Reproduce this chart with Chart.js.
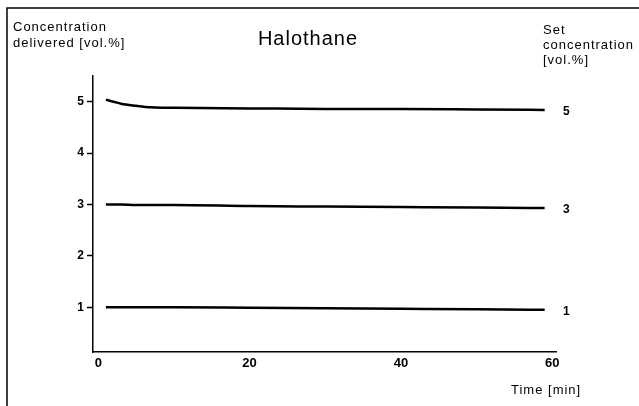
<!DOCTYPE html>
<html>
<head>
<meta charset="utf-8">
<script src="https://cdn.jsdelivr.net/npm/chart.js@4/dist/chart.umd.min.js"></script>
<style>
  html, body { margin: 0; padding: 0; background: #fff; }
  #wrap { width: 639px; height: 406px; position: relative; }
</style>
</head>
<body>
<div id="wrap"><canvas id="chart" width="639" height="406"></canvas></div>
<script>
// Halothane vaporizer output over time
const timeMin = [1, 2, 3, 5, 7, 10, 20, 30, 40, 50, 59];
const set5 = [5.04, 5.0, 4.96, 4.92, 4.89, 4.88, 4.87, 4.86, 4.86, 4.85, 4.84];
const set3 = [3.0, 3.0, 3.0, 2.99, 2.99, 2.99, 2.97, 2.96, 2.95, 2.94, 2.93];
const set1 = [1.0, 1.0, 1.0, 1.0, 1.0, 1.0, 0.99, 0.98, 0.97, 0.96, 0.95];
const setLabels = ['5', '3', '1'];
const xTicks = [0, 20, 40, 60];
const yTicks = [1, 2, 3, 4, 5];

const FONT = '"Liberation Sans", Arial, sans-serif';

function toPoints(ys) {
    return timeMin.map((t, i) => ({ x: t, y: ys[i] }));
}

function makeSet(ys) {
    return {
        data: toPoints(ys),
        borderColor: '#000',
        borderWidth: 2.5,
        pointRadius: 0,
        cubicInterpolationMode: 'monotone',
        fill: false,
    };
}

// free text and the scanned frame
const textPlugin = {
    id: 'textPlugin',
    afterDraw(chart) {
        const ctx = chart.ctx;
        const ys = chart.scales.y;
        ctx.save();
        ctx.fillStyle = '#000';
        ctx.strokeStyle = '#000';

        // frame
        ctx.lineWidth = 1.5;
        ctx.beginPath();
        ctx.moveTo(7, 406);
        ctx.lineTo(7, 8);
        ctx.lineTo(639, 8);
        ctx.stroke();

        ctx.textBaseline = 'middle';
        ctx.textAlign = 'left';
        ctx.letterSpacing = '1px';
        ctx.font = '13px ' + FONT;
        ctx.fillText('Concentration', 13, 27);
        ctx.fillText('delivered [vol.%]', 13, 43);

        ctx.fillText('Set', 543, 30);
        ctx.fillText('concentration', 543, 45);
        ctx.fillText('[vol.%]', 543, 60);

        ctx.fillText('Time [min]', 511, 390);

        ctx.textAlign = 'center';
        ctx.font = '20px ' + FONT;
        ctx.fillText('Halothane', 308, 39);

        // set concentration labels at line ends
        ctx.letterSpacing = '0px';
        ctx.font = 'bold 12px ' + FONT;
        ctx.textAlign = 'left';
        chart.data.datasets.forEach((ds, i) => {
            const last = ds.data[ds.data.length - 1];
            ctx.fillText(setLabels[i], 563, ys.getPixelForValue(last.y) + 2);
        });
        ctx.restore();
    }
};

window.addEventListener('DOMContentLoaded', () => {
    const ctx = document.getElementById('chart').getContext('2d');
    new Chart(ctx, {
        type: 'line',
        data: {
            datasets: [makeSet(set5), makeSet(set3), makeSet(set1)],
        },
        options: {
            responsive: false,
            animation: false,
            layout: { padding: { left: 0, right: 83, top: 76, bottom: 24 } },
            plugins: { legend: { display: false }, tooltip: { enabled: false } },
            scales: {
                x: {
                    type: 'linear',
                    min: -0.7,
                    max: 60.5,
                    afterBuildTicks: s => { s.ticks = xTicks.map(v => ({ value: v })); },
                    afterFit: s => { s.height = 30; },
                    border: { color: '#000', width: 1.5 },
                    grid: { display: true, drawOnChartArea: false, drawTicks: false },
                    ticks: {
                        color: '#000',
                        padding: 4,
                        font: { family: FONT, size: 13, weight: 'bold' },
                    },
                },
                y: {
                    min: 0.13,
                    max: 5.5,
                    afterBuildTicks: s => { s.ticks = yTicks.map(v => ({ value: v })); },
                    afterFit: s => { s.width = 93; },
                    border: { color: '#000', width: 1.5 },
                    grid: {
                        drawOnChartArea: false,
                        tickLength: 6,
                        tickColor: '#000',
                        tickWidth: 1.5,
                    },
                    ticks: {
                        color: '#000',
                        padding: 3,
                        font: { family: FONT, size: 12, weight: 'bold' },
                    },
                },
            },
        },
        plugins: [textPlugin],
    });
});
</script>
</body>
</html>
